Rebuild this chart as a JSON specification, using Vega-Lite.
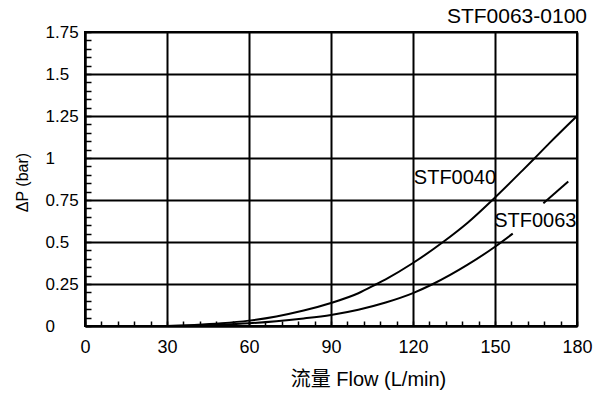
{
  "$schema": "https://vega.github.io/schema/vega-lite/v6.json",
  "width": 492,
  "height": 294,
  "autosize": {"type": "none"},
  "padding": {"left": 85, "top": 32, "right": 32, "bottom": 74},
  "background": "white",
  "config": {"view": {"stroke": "black", "strokeWidth": 2}, "font": "Liberation Sans"},
  "title": {"text": "STF0063-0100", "anchor": "end", "fontSize": 21, "fontWeight": "normal", "color": "black", "offset": 5, "dx": -5, "dy": 9, "font": "Liberation Sans"},
  "datasets": {
    "curves": [
      {"seg": "STF0040", "flow": 30, "dp": 0},
      {"seg": "STF0040", "flow": 40, "dp": 0.006},
      {"seg": "STF0040", "flow": 50, "dp": 0.016},
      {"seg": "STF0040", "flow": 60, "dp": 0.032},
      {"seg": "STF0040", "flow": 70, "dp": 0.057},
      {"seg": "STF0040", "flow": 80, "dp": 0.092},
      {"seg": "STF0040", "flow": 90, "dp": 0.137},
      {"seg": "STF0040", "flow": 100, "dp": 0.195},
      {"seg": "STF0040", "flow": 106.7, "dp": 0.25},
      {"seg": "STF0040", "flow": 110, "dp": 0.278},
      {"seg": "STF0040", "flow": 120, "dp": 0.375},
      {"seg": "STF0040", "flow": 131, "dp": 0.5},
      {"seg": "STF0040", "flow": 140, "dp": 0.615},
      {"seg": "STF0040", "flow": 150, "dp": 0.765},
      {"seg": "STF0040", "flow": 160, "dp": 0.925},
      {"seg": "STF0040", "flow": 164.6, "dp": 1.0},
      {"seg": "STF0040", "flow": 170, "dp": 1.09},
      {"seg": "STF0040", "flow": 180, "dp": 1.25},
      {"seg": "STF0063a", "flow": 30, "dp": 0},
      {"seg": "STF0063a", "flow": 40, "dp": 0.003},
      {"seg": "STF0063a", "flow": 50, "dp": 0.008},
      {"seg": "STF0063a", "flow": 60, "dp": 0.016},
      {"seg": "STF0063a", "flow": 70, "dp": 0.028},
      {"seg": "STF0063a", "flow": 80, "dp": 0.045},
      {"seg": "STF0063a", "flow": 90, "dp": 0.066},
      {"seg": "STF0063a", "flow": 100, "dp": 0.097},
      {"seg": "STF0063a", "flow": 110, "dp": 0.14},
      {"seg": "STF0063a", "flow": 120, "dp": 0.196},
      {"seg": "STF0063a", "flow": 127.3, "dp": 0.25},
      {"seg": "STF0063a", "flow": 140, "dp": 0.365},
      {"seg": "STF0063a", "flow": 150, "dp": 0.472},
      {"seg": "STF0063a", "flow": 156.5, "dp": 0.55},
      {"seg": "STF0063b", "flow": 167.7, "dp": 0.73},
      {"seg": "STF0063b", "flow": 176.8, "dp": 0.86}
    ],
    "labels": [
      {"label": "STF0040", "flow": 120.3, "dp": 0.848},
      {"label": "STF0063", "flow": 149.7, "dp": 0.588}
    ]
  },
  "encoding": {
    "x": {
      "field": "flow", "type": "quantitative",
      "scale": {"domain": [0, 180], "nice": false, "zero": false},
      "axis": {
        "values": [0, 6, 12, 18, 24, 30, 36, 42, 48, 54, 60, 66, 72, 78, 84, 90, 96, 102, 108, 114, 120, 126, 132, 138, 144, 150, 156, 162, 168, 174, 180],
        "grid": true, "gridColor": "black", "gridWidth": 2,
        "gridOpacity": {"condition": {"test": "datum.value % 30 === 0", "value": 1}, "value": 0},
        "ticks": true, "tickSize": -5, "tickColor": "black", "tickWidth": 1.5,
        "domainColor": "black", "domainWidth": 2,
        "labelExpr": "datum.value % 30 === 0 ? '' + datum.value : ''",
        "labelFontSize": 18, "labelColor": "black", "labelPadding": 17,
        "labelFlush": false, "labelOverlap": false, "labelFont": "Liberation Sans",
        "title": "流量 Flow (L/min)", "titleFontSize": 20, "titleFontWeight": "normal",
        "titleColor": "black", "titleFont": "Liberation Sans, Noto Sans CJK SC",
        "titleX": 283, "titleY": 59, "titleBaseline": "alphabetic", "titleAlign": "center"
      }
    },
    "y": {
      "field": "dp", "type": "quantitative",
      "scale": {"domain": [0, 1.75], "nice": false},
      "axis": {
        "values": [0, 0.05, 0.1, 0.15, 0.2, 0.25, 0.3, 0.35, 0.4, 0.45, 0.5, 0.55, 0.6, 0.65, 0.7, 0.75, 0.8, 0.85, 0.9, 0.95, 1, 1.05, 1.1, 1.15, 1.2, 1.25, 1.3, 1.35, 1.4, 1.45, 1.5, 1.55, 1.6, 1.65, 1.7, 1.75],
        "grid": true, "gridColor": "black", "gridWidth": 2,
        "gridOpacity": {"condition": {"test": "abs(datum.value*4 - round(datum.value*4)) < 0.001", "value": 1}, "value": 0},
        "ticks": true, "tickSize": -6, "tickColor": "black", "tickWidth": 1.5,
        "domainColor": "black", "domainWidth": 2,
        "labelExpr": "abs(datum.value*4 - round(datum.value*4)) < 0.001 ? '' + datum.value : ''",
        "labelFontSize": 17, "labelColor": "black", "labelPadding": 46, "labelAlign": "left",
        "labelFlush": false, "labelOverlap": false, "labelFont": "Liberation Sans",
        "title": "ΔP (bar)", "titleFontSize": 16, "titleFontWeight": "normal",
        "titleColor": "black", "titleFont": "Liberation Sans",
        "titleX": -63, "titleY": 150, "titleAngle": -90, "titleAlign": "center", "titleBaseline": "middle"
      }
    }
  },
  "layer": [
    {
      "data": {"name": "curves"},
      "mark": {"type": "line", "color": "black", "strokeWidth": 2, "interpolate": "monotone"},
      "encoding": {
        "detail": {"field": "seg"}
      }
    },
    {
      "data": {"name": "labels"},
      "mark": {"type": "text", "align": "left", "baseline": "alphabetic", "fontSize": 20, "font": "Liberation Sans", "color": "black"},
      "encoding": {
        "text": {"field": "label"}
      }
    }
  ]
}
